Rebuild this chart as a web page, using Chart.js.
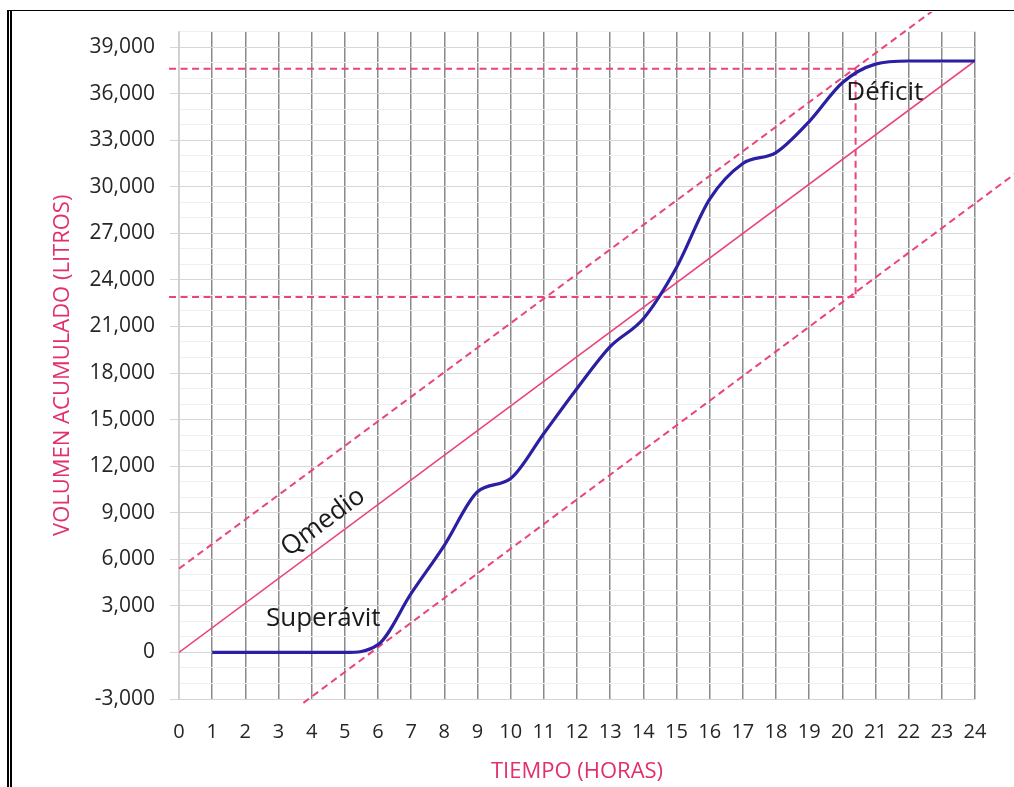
<!DOCTYPE html>
<html>
<head>
<meta charset="utf-8">
<title>Volumen acumulado</title>
<script src="https://cdn.jsdelivr.net/npm/chart.js@4.4.1/dist/chart.umd.min.js"></script>
<style>
  html, body { margin: 0; padding: 0; background: #fff; }
  body { width: 1014px; height: 787px; position: relative; overflow: hidden; }
  #marco { position: absolute; left: 7px; top: 10px; right: -2px; bottom: -2px;
           border-top: 1px solid #000; border-left: 5px double #000; }
  #caja { position: absolute; left: 13px; top: 12px; width: 1001px; height: 775px; }
</style>
</head>
<body>
<div id="marco"></div>
<div id="caja"><canvas id="volumenChart"></canvas></div>
<script>
// Volumen acumulado por hora (litros)
const horas = [1, 2, 3, 4, 5, 6, 7, 8, 9, 10, 11, 12, 13, 14, 15, 16, 17, 18, 19, 20, 21, 22, 23, 24];
const volumen = [0, 0, 0, 0, 0, 500, 3800, 6900, 10350, 11200, 14100, 17000,
                 19700, 21500, 24800, 29200, 31500, 32200, 34200, 36700, 37900, 38100, 38100, 38100];

// Recta de caudal medio y paralelas tangentes
const qmedioX = [0, 24];
const qmedioY = [0, 38100];
const tangSupX = [0, 24];
const tangSupY = [5400, 43350];
const tangInfX = [3.75, 26];
const tangInfY = [-3250, 32100];

// Lecturas de déficit y superávit
const deficitX = [-0.3, 20.4];
const deficitY = [37600, 37600];
const superavitX = [-0.3, 20.4];
const superavitY = [22900, 22900];
const verticalX = [20.4, 20.4];
const verticalY = [37600, 22900];

const rosa = "#e9457a";
const rosaTexto = "#e2306c";
Chart.defaults.font.family = "'Open Sans', sans-serif";

function puntos(xs, ys) {
  return xs.map((x, i) => ({ x: x, y: ys[i] }));
}

function discontinua(xs, ys) {
  return {
    data: puntos(xs, ys),
    showLine: true,
    borderColor: rosa,
    borderWidth: 2,
    borderDash: [7, 4.5],
    pointRadius: 0,
    clip: false,
  };
}

// Textos sobre la gráfica, anclados a valores de los ejes
const notas = {
  id: "notas",
  afterDatasetsDraw(chart) {
    const { ctx } = chart;
    const x = chart.scales.x;
    const y = chart.scales.y;
    ctx.save();
    ctx.font = "26px 'Open Sans'";
    ctx.fillStyle = "#1a1a1a";
    ctx.textBaseline = "middle";
    ctx.textAlign = "left";
    ctx.fillText("Déficit", x.getPixelForValue(20.12), y.getPixelForValue(36050));
    ctx.textAlign = "center";
    ctx.fillText("Superávit", x.getPixelForValue(4.35), y.getPixelForValue(2150));
    const ang = Math.atan2(
      y.getPixelForValue(qmedioY[1]) - y.getPixelForValue(qmedioY[0]),
      x.getPixelForValue(qmedioX[1]) - x.getPixelForValue(qmedioX[0])
    );
    ctx.translate(x.getPixelForValue(4.35), y.getPixelForValue(8400));
    ctx.rotate(ang);
    ctx.fillText("Qmedio", 0, 0);
    ctx.restore();
  },
};

const ctx = document.getElementById("volumenChart").getContext("2d");
new Chart(ctx, {
  type: "scatter",
  data: {
    datasets: [
      {
        data: puntos(horas, volumen),
        showLine: true,
        borderColor: "#2b1fa3",
        borderWidth: 3.2,
        cubicInterpolationMode: "monotone",
        pointRadius: 0,
      },
      {
        data: puntos(qmedioX, qmedioY),
        showLine: true,
        borderColor: rosa,
        borderWidth: 1.6,
        pointRadius: 0,
      },
      discontinua(tangSupX, tangSupY),
      discontinua(tangInfX, tangInfY),
      discontinua(deficitX, deficitY),
      discontinua(superavitX, superavitY),
      discontinua(verticalX, verticalY),
    ],
  },
  options: {
    responsive: true,
    maintainAspectRatio: false,
    animation: false,
    devicePixelRatio: 1,
    layout: { padding: { left: 0, right: 39, top: 19.5, bottom: 0 } },
    plugins: { legend: { display: false }, tooltip: { enabled: false } },
    scales: {
      x: {
        type: "linear",
        min: 0,
        max: 24,
        afterFit(scale) { scale.height = 88; },
        border: { color: "#d4d4d4" },
        grid: {
          drawTicks: false,
          lineWidth: 1.5,
          color: (c) => (c.tick && c.tick.value === 0 ? "#d0d0d0" : "#8a8a8a"),
        },
        ticks: {
          stepSize: 1,
          autoSkip: false,
          maxRotation: 0,
          padding: 21,
          color: "#262626",
          font: { size: 20 },
        },
        title: {
          display: true,
          text: "TIEMPO (HORAS)",
          color: rosaTexto,
          font: { size: 22 },
          padding: { top: 0, bottom: 2 },
        },
      },
      y: {
        type: "linear",
        min: -3000,
        max: 40000,
        afterFit(scale) {
          scale.width = 166;
          scale.paddingTop = 0;
          scale.paddingBottom = 0;
        },
        border: { color: "#d0d0d0" },
        grid: {
          tickLength: 9,
          color: (c) => (c.tick && c.tick.value % 3000 === 0 ? "#d6d6d6" : "#efefef"),
          tickColor: (c) => (c.tick && c.tick.value % 3000 === 0 ? "#d6d6d6" : "rgba(0,0,0,0)"),
        },
        ticks: {
          stepSize: 1000,
          autoSkip: false,
          padding: 15,
          color: "#262626",
          font: { size: 21 },
          callback: (v) => (v % 3000 === 0 && v <= 39000 ? v.toLocaleString("en-US") : ""),
        },
        title: {
          display: true,
          text: "VOLUMEN ACUMULADO (LITROS)",
          color: rosaTexto,
          font: { size: 22 },
          padding: { top: 37, bottom: 0 },
        },
      },
    },
  },
  plugins: [notas],
});
</script>
</body>
</html>
